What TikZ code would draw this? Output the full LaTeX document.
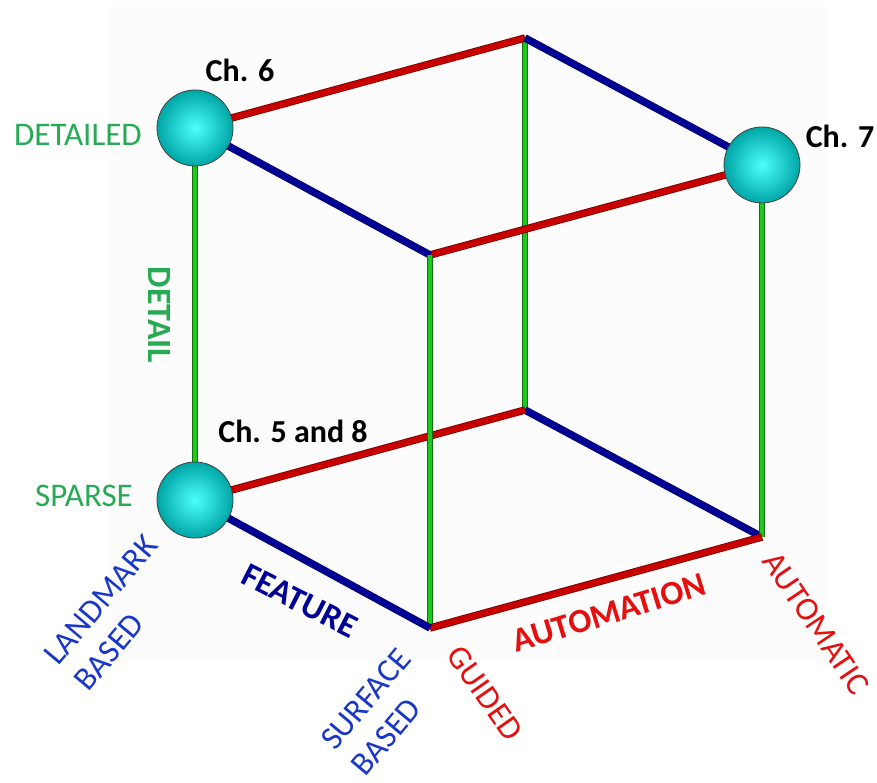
\documentclass[tikz,border=0pt]{standalone}
\usepackage{fontspec}
\setmainfont{Carlito}
\definecolor{edgered}{RGB}{200,0,0}
\definecolor{edgeblue}{RGB}{0,0,150}
\definecolor{edgegreen}{RGB}{30,200,30}
\definecolor{txtgreen}{RGB}{40,170,85}
\definecolor{txtblue}{RGB}{25,55,200}
\definecolor{txtred}{RGB}{230,15,15}

\begin{document}
\begin{tikzpicture}[x=1pt,y=-1pt,
  redbar/.style={draw=edgered,line width=6pt,preaction={draw=edgered!55!black,line width=7.5pt}},
  bluebar/.style={draw=edgeblue,line width=6pt,preaction={draw=edgeblue!60!black,line width=7.5pt}},
  greenbar/.style={draw=edgegreen,line width=4.5pt,preaction={draw=edgegreen!55!black,line width=6pt}},
  ball/.style={circle,minimum size=76pt,inner sep=0pt,inner color=cyan!70!white,outer color=cyan!65!black,draw=black!75,line width=0.8pt},
  chap/.style={font=\fontsize{32}{36}\selectfont\bfseries},
  lvl/.style={font=\fontsize{33}{40}\selectfont,align=left},
  axis/.style={font=\fontsize{34}{40}\selectfont\bfseries}]
  \useasboundingbox (0,0) rectangle (877,783);
  \fill[black!1] (110,7) rectangle (826,662);

  \coordinate (A) at (195,128);
  \coordinate (B) at (525,38);
  \coordinate (C) at (762,165);
  \coordinate (D) at (430,255);
  \coordinate (E) at (195,500);
  \coordinate (F) at (525,410);
  \coordinate (G) at (430,628);
  \coordinate (H) at (762,537);

  \path[greenbar] (B) -- (F);
  \path[bluebar] (F) -- (H);
  \path[redbar] (E) -- (F);
  \path[redbar] (A) -- (B);
  \path[bluebar] (B) -- (C);
  \path[redbar] (D) -- (C);
  \path[bluebar] (A) -- (D);
  \path[greenbar] (A) -- (E);
  \path[greenbar] (C) -- (H);
  \path[greenbar] (D) -- (G);
  \path[redbar] (G) -- (H);
  \path[bluebar] (E) -- (G);

  \node[ball] (ch6) at (A) {};
  \node[ball] (ch7) at (C) {};
  \node[ball] (ch58) at (E) {};

  \node[chap] (ch6txt) at (240,70) {Ch. 6};
  \node[chap] (ch7txt) at (840,136) {Ch. 7};
  \node[chap] (ch58txt) at (293,431) {Ch. 5 and 8};

  \node[lvl,text=txtgreen] (detailed) at (78,135) {DETAILED};
  \node[lvl,text=txtgreen] (sparse) at (84,496) {SPARSE};
  \node[lvl,text=txtblue,rotate=50] (landmark) at (116,613) {LANDMARK\\BASED};
  \node[lvl,text=txtblue,rotate=50] (surface) at (381,712) {SURFACE\\BASED};
  \node[lvl,text=txtred,rotate=-55] (guided) at (485,693) {GUIDED};
  \node[lvl,text=txtred,rotate=-56] (automatic) at (816,623) {AUTOMATIC};

  \node[axis,text=txtgreen,rotate=-90] (detail) at (160,315) {DETAIL};
  \node[axis,text=edgeblue,rotate=-27] (feature) at (300,601) {FEATURE};
  \node[axis,text=txtred,rotate=17] (automation) at (609,613) {AUTOMATION};
\end{tikzpicture}
\end{document}
